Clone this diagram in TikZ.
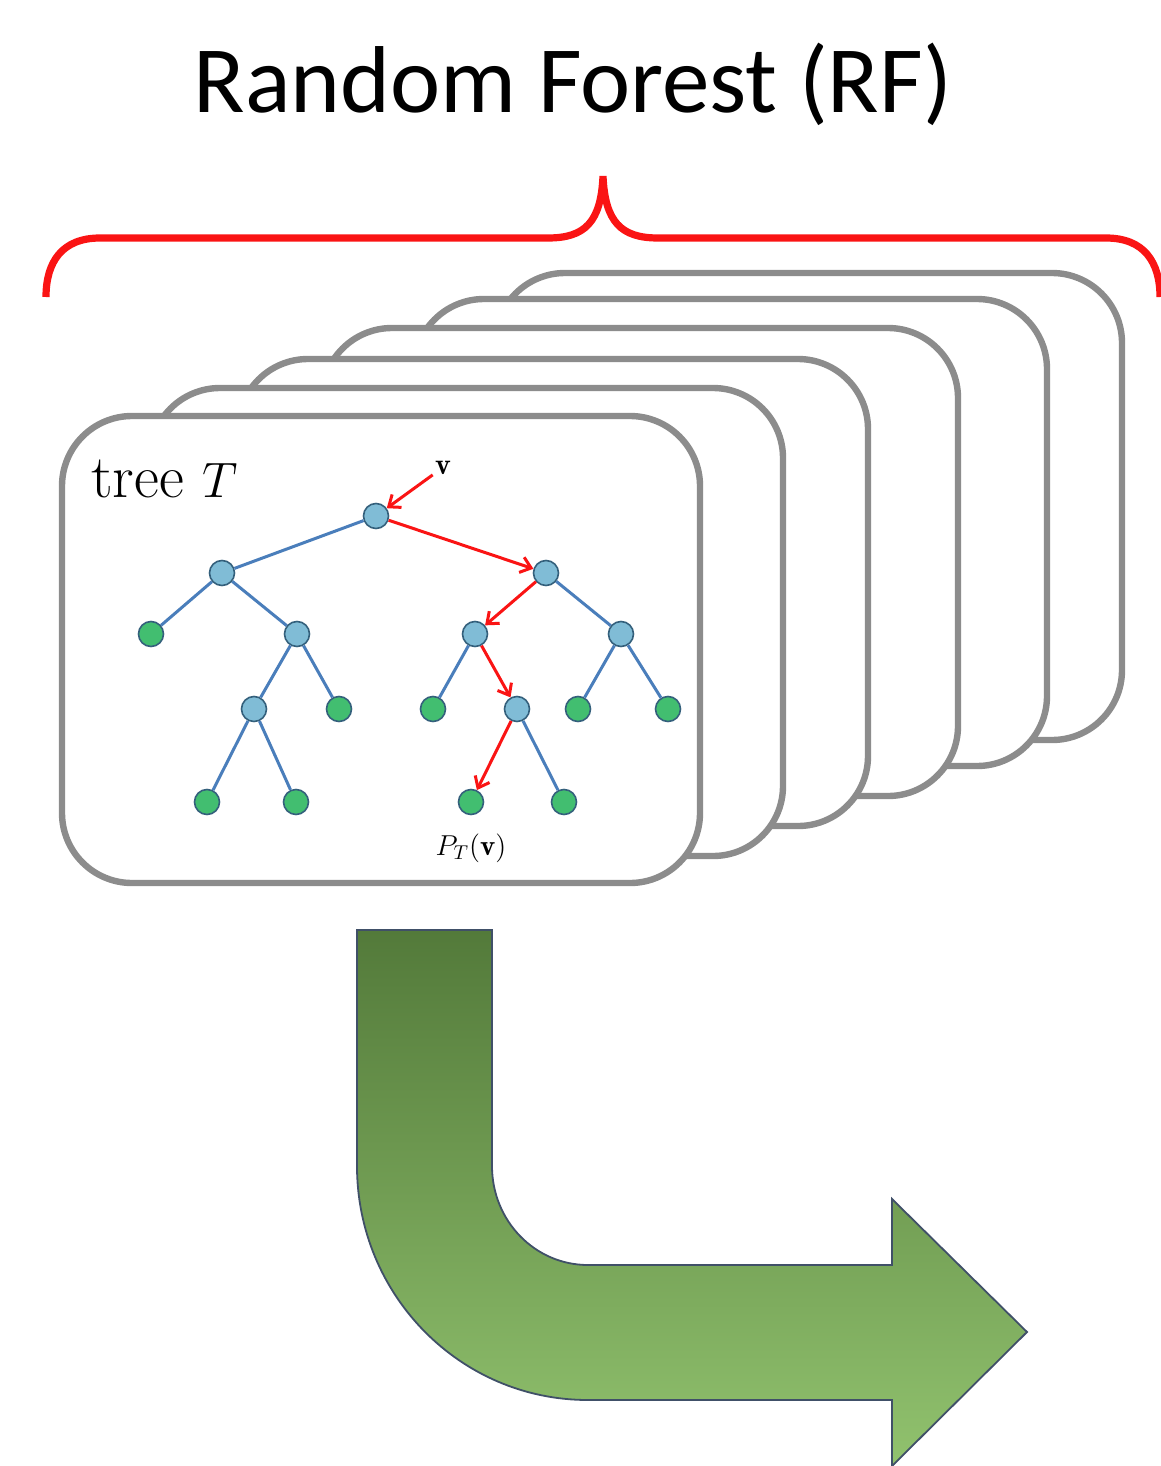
\documentclass[tikz,border=0pt]{standalone}
\usepackage{fontspec}
\usepackage{tikz}
\usetikzlibrary{arrows.meta,positioning}
\newfontfamily\titlefont{Carlito}
\definecolor{cardgray}{RGB}{140, 140, 140}
\definecolor{pathred}{RGB}{250, 20, 20}
\definecolor{edgeblue}{RGB}{74, 126, 187}
\definecolor{splitblue}{RGB}{128, 188, 214}
\definecolor{leafgreen}{RGB}{66, 190, 112}
\definecolor{nodeline}{RGB}{52, 96, 124}
\definecolor{arrowtop}{RGB}{83, 122, 58}
\definecolor{arrowbot}{RGB}{145, 194, 110}
\definecolor{arrowline}{RGB}{64, 80, 104}
\tikzstyle{card} = [draw=cardgray, line width=3.2pt, fill=white, rounded corners=35pt]
\tikzstyle{split} = [circle, draw=nodeline, line width=0.8pt, fill=splitblue, minimum size=12.5pt, inner sep=0pt]
\tikzstyle{leaf} = [circle, draw=nodeline, line width=0.8pt, fill=leafgreen, minimum size=12.5pt, inner sep=0pt]
\tikzstyle{textonly} = [draw=none, fill=none, text centered, inner sep=1pt]
\tikzstyle{bedge} = [draw=edgeblue, line width=1.5pt]
\tikzstyle{redge} = [draw=pathred, line width=1.5pt, -{Straight Barb[length=5pt,width=8pt,line width=1.5pt]}]

\begin{document}
\begin{tikzpicture}[x=0.5pt, y=-0.5pt]
\useasboundingbox (0,0) rectangle (1161,1466);

%title and brace
\node[textonly, anchor=base, font=\titlefont\fontsize{47.5}{57}\selectfont] (title) at (573,113) {Random Forest (RF)};
\draw[pathred, line width=3.6pt] (46,297) .. controls (46,262) and (62,238) .. (100,238) -- (548,238)
  .. controls (585,238) and (601,222) .. (603,176) .. controls (605,222) and (621,238) .. (658,238)
  -- (1106,238) .. controls (1144,238) and (1160,262) .. (1160,297);

%cards, back to front
\draw[card] (495,273) rectangle (1122,740);
\draw[card] (414,299) rectangle (1047,766);
\draw[card] (322,328) rectangle (958,796);
\draw[card] (238,359) rectangle (868,826);
\draw[card] (150,388) rectangle (783,856);
\draw[card] (62,416) rectangle (700,883);

%labels
\node[textonly, anchor=base west, font=\fontsize{30.5}{36}\selectfont] (treename) at (89,497) {tree $T$};
\node[textonly, anchor=base, font=\fontsize{15}{18}\selectfont] (vin) at (443,474) {$\mathbf{v}$};

%tree
\node[split] (root) at (376,516) {};
\node[split] (l) at (222,573) {};
\node[split] (r) at (546,573) {};
\node[leaf] (ll) at (151,634) {};
\node[split] (lr) at (297,634) {};
\node[split] (rl) at (475,634) {};
\node[split] (rr) at (621,634) {};
\node[split] (lrl) at (254,709) {};
\node[leaf] (lrr) at (339,709) {};
\node[leaf] (rll) at (433,709) {};
\node[split] (rlr) at (517,709) {};
\node[leaf] (rrl) at (578,709) {};
\node[leaf] (rrr) at (668,709) {};
\node[leaf] (lrll) at (207,802) {};
\node[leaf] (lrlr) at (296,802) {};
\node[leaf] (rlrl) at (471,802) {};
\node[leaf] (rlrr) at (564,802) {};

\node[textonly, anchor=base, font=\fontsize{14.5}{17}\selectfont] (pred) at (471,855) {$P_T(\mathbf{v})$};

%paths
\path[bedge] (root) -- (l);
\path[bedge] (l) -- (ll);
\path[bedge] (l) -- (lr);
\path[bedge] (lr) -- (lrl);
\path[bedge] (lr) -- (lrr);
\path[bedge] (lrl) -- (lrll);
\path[bedge] (lrl) -- (lrlr);
\path[bedge] (r) -- (rr);
\path[bedge] (rl) -- (rll);
\path[bedge] (rr) -- (rrl);
\path[bedge] (rr) -- (rrr);
\path[bedge] (rlr) -- (rlrr);

\path[redge] (vin) -- (root);
\path[redge] (root) -- (r);
\path[redge] (r) -- (rl);
\path[redge] (rl) -- (rlr);
\path[redge] (rlr) -- (rlrl);

%bent arrow
\path[top color=arrowtop, bottom color=arrowbot, draw=arrowline, line width=0.9pt]
  (357,930) -- (492,930) -- (492,1166) .. controls (492,1221) and (535,1265) .. (588,1265)
  -- (892,1265) -- (892,1199) -- (1027,1332) -- (892,1466) -- (892,1400) -- (588,1400)
  .. controls (460,1400) and (357,1295) .. (357,1166) -- cycle;

\end{tikzpicture}
\end{document}
